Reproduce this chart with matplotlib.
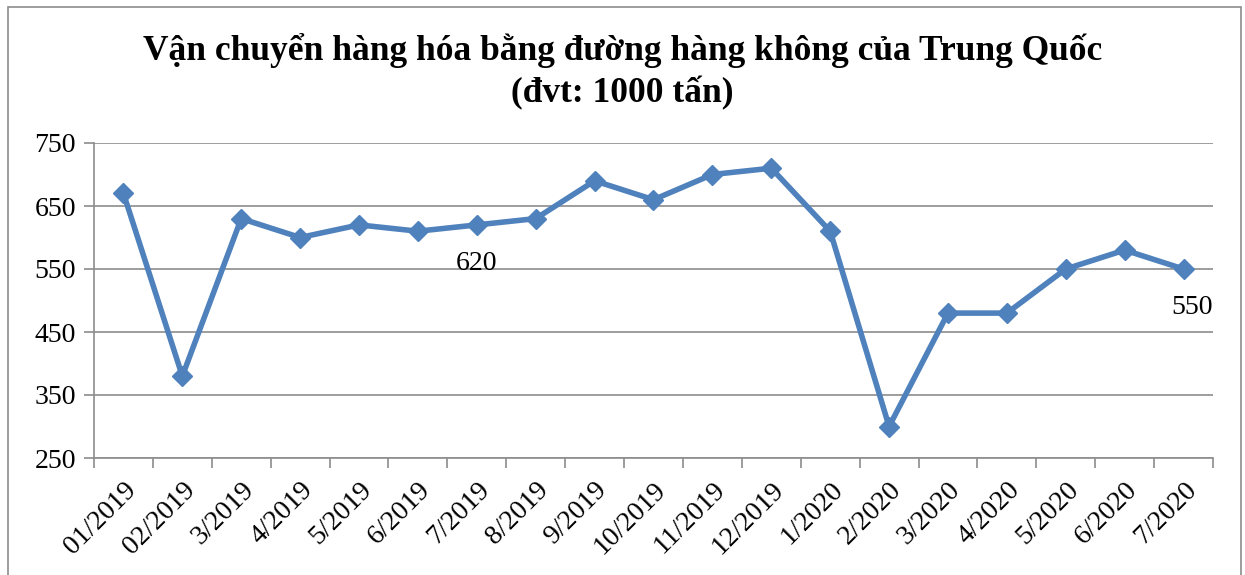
import matplotlib.pyplot as plt
from matplotlib.patches import Rectangle

# Data
MONTHS = ['01/2019', '02/2019', '3/2019', '4/2019', '5/2019', '6/2019',
          '7/2019', '8/2019', '9/2019', '10/2019', '11/2019', '12/2019',
          '1/2020', '2/2020', '3/2020', '4/2020', '5/2020', '6/2020',
          '7/2020']
CARGO = [670, 380, 630, 600, 620, 610, 620, 630, 690, 660, 700, 710,
         610, 300, 480, 480, 550, 580, 550]
LABELLED = ['7/2019', '7/2020']
Y_TICKS = [250, 350, 450, 550, 650, 750]

BLUE = '#4F81BD'
GRID = '#8C8C8C'

plt.rcParams['font.family'] = ['Liberation Serif', 'DejaVu Serif']

fig = plt.figure(figsize=(12.45, 5.75), dpi=100)
fig.patches.append(Rectangle((8 / 1245, -0.01), 1233 / 1245, 1 - 7 / 575 + 0.01,
                             transform=fig.transFigure, fill=False,
                             edgecolor='#8C8C8C', lw=1.2))
ax = fig.add_axes([94 / 1245, 1 - 458 / 575, 1119 / 1245, 315 / 575])

x = list(range(len(MONTHS)))
ax.plot(x, CARGO, color=BLUE, lw=4, marker='D', markersize=10,
        markerfacecolor=BLUE, markeredgecolor=BLUE, zorder=3)

for name in LABELLED:
    i = MONTHS.index(name)
    dx = 0.15 if i == len(MONTHS) - 1 else 0
    ax.annotate(str(CARGO[i]), (i + dx, CARGO[i]), xytext=(0, -28),
                textcoords='offset points', ha='center', va='center',
                fontsize=20)

ax.set_xlim(-0.5, len(MONTHS) - 0.5)
ax.set_ylim(250, 750)
ax.set_yticks(Y_TICKS)
ax.yaxis.grid(True, color=GRID, lw=1.2)
ax.set_axisbelow(True)

ax.set_xticks(x)
ax.set_xticklabels(MONTHS, rotation=45, ha='right', rotation_mode='anchor',
                   fontsize=20)
ax.set_xticks([i - 0.5 for i in range(len(MONTHS) + 1)], minor=True)
ax.tick_params(axis='x', which='major', length=0, pad=14)
ax.tick_params(axis='x', which='minor', length=7, color=GRID, width=1.2,
               direction='out')
ax.tick_params(axis='y', length=7, color=GRID, width=1.2, labelsize=20, pad=6)

for side in ['top', 'right']:
    ax.spines[side].set_visible(False)
for side in ['left', 'bottom']:
    ax.spines[side].set_color(GRID)
    ax.spines[side].set_linewidth(1.2)

fig.text(0.5, 1 - 50 / 575,
         'Vận chuyển hàng hóa bằng đường hàng không của Trung Quốc',
         ha='center', va='center', fontsize=25.5, fontweight='bold')
fig.text(0.5, 1 - 93 / 575, '(đvt: 1000 tấn)',
         ha='center', va='center', fontsize=25.5, fontweight='bold')

fig.savefig('out.png', dpi=100)
